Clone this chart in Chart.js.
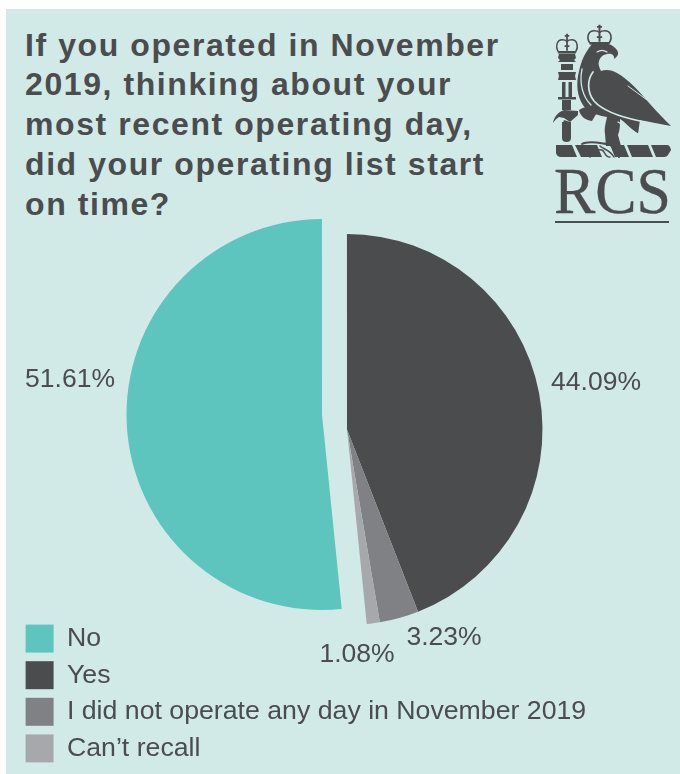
<!DOCTYPE html>
<html>
<head>
<meta charset="utf-8">
<title>Operating list start times</title>
<script src="https://cdn.jsdelivr.net/npm/chart.js@4"></script>
<style>
  html, body { margin: 0; padding: 0; background: #fff; }
  #page { position: relative; width: 680px; height: 774px; overflow: hidden; }
  #panel { position: absolute; left: 6px; top: 9px; right: 0; bottom: 0; background: #d1eae8; }
  #question {
    position: absolute; left: 25px; top: 25.5px; margin: 0;
    font: bold 32px/39.8px "Liberation Sans", Arial, sans-serif;
    letter-spacing: 1.58px; color: #4b4c4e; white-space: nowrap;
  }
  #crest { position: absolute; left: 0; top: 0; }
  #chart { position: absolute; left: 0; top: 0; }
</style>
</head>
<body>
<div id="page">
  <div id="panel"></div>
  <h1 id="question"></h1>

  <!-- College crest: falcon, mace and crowns -->
  <svg id="crest" width="680" height="774" viewBox="0 0 680 774">
    <defs>
      <g id="crown">
        <path d="M-11,9 C-15,2 -12,-5 -6,-5 C-3,-5 -1,-4 0,-3 C1,-4 3,-5 6,-5 C12,-5 15,2 11,9 Z" fill="none" stroke="#4b4c4e" stroke-width="1.8"/>
        <path d="M-11,10 H11" stroke="#4b4c4e" stroke-width="2.6"/>
        <path d="M0,-12 V8 M-2.8,-9.5 H2.8 M-3,2.5 H3" stroke="#4b4c4e" stroke-width="2.2"/>
      </g>
    </defs>
    <g fill="#4b4c4e">
      <use href="#crown" transform="translate(599.5 35) scale(0.9 0.85)"/>
      <use href="#crown" transform="translate(567 44) scale(0.8 0.85)"/>

      <!-- mace -->
      <path d="M559,54 H575 L576,58 L574,60 L576,62 H558 L560,60 L558,58 Z"/>
      <path d="M561,64 H573 V70 H561 Z"/>
      <path d="M558,72 H576 L575,76 L576,80 H558 L559,76 Z"/>
      <path d="M562,82 H565.5 V97 H562 Z M568.5,82 H572 V97 H568.5 Z"/>
      <path d="M558,97 H576 V99.5 H558 Z"/>
      <path d="M562,100 H571 V110 H562 Z"/>
      <path d="M562,122 H571 V138 Q571,142 566.5,142 Q562,142 562,138 Z"/>
      <path d="M553,123 C554,117 558,112 564,110 L578,111 L578,115 L570,122 L564,118 L559,117 C557,118 555,120 553,123 Z"/>
      <path d="M564,120 L570,122 L567,130 L562,126 Z"/>

      <!-- falcon body -->
      <path d="M592,44 C600,42 610,43 614,47 C619,51 620,55 614,59 C615,55 611,53 607,54 C602,55 600,58 599,61 C598,64 599,67 601,71 C606,69 612,70 617,73 C628,79 640,92 650,104 C657,112 665,120 671,126 C660,124 650,122 640,120 L638,134 C630,128 625,122 620,119 C620,125 620,130 618,135 L621,146 L606,146 L605,134 C604,128 606,122 607,117 C600,116 593,114 586,109 C578,100 576,88 578,76 C580,66 582,56 592,44 Z"/>
      <path d="M579,110 C585,106 592,106 598,111 L592,121 C585,120 580,116 579,110 Z"/>

      <!-- perch with gaps -->
      <path d="M556,145 H572 L577,157 H561 Q557,157 556,153 Z"/>
      <path d="M575,145 H597 L602,157 H581 Z"/>
      <path d="M610,145 H624 L629,157 H615 Z"/>
      <path d="M627,145 H648 L653,157 H632 Z"/>
      <path d="M651,145 H667 Q670,145 671,150 L668,155 Q667,157 664,157 H656 Z"/>
    </g>

    <!-- feather and claw lines -->
    <g fill="none" stroke="#d1eae8" stroke-linecap="round">
      <path d="M593,72 C587,80 587,92 594,101 C602,110 616,116 640,121" stroke-width="1.7"/>
      <path d="M582,69 C579,84 583,97 591,105" stroke-width="1.3"/>
      <path d="M628,86 L647,100" stroke-width="1"/>
      <path d="M618,122 L638,134" stroke-width="1.2"/>
      <path d="M597,52 C600,50 604,50 607,52" stroke-width="1.2"/>
    </g>
    <g fill="none" stroke="#4b4c4e" stroke-linecap="round">
      <path d="M582,144 C588,140 600,143 607,144 C612,145 618,150 619,157" stroke-width="2"/>
      <path d="M590,157 C592,151 598,149 602,150 C606,152 604,157 610,157 M600,146 C603,149 610,150 614,157" stroke-width="1.5"/>
    </g>

    <text x="554" y="212.5" font-family="Liberation Serif, serif" font-size="66" fill="#4b4c4e" stroke="#4b4c4e" stroke-width="0.4" textLength="117" lengthAdjust="spacingAndGlyphs">RCS</text>
    <rect x="555" y="221" width="114" height="2" fill="#4b4c4e"/>
  </svg>

  <canvas id="chart" width="680" height="774"></canvas>
</div>

<script>
const questionLines = [
  "If you operated in November",
  "2019, thinking about your",
  "most recent operating day,",
  "did your operating list start",
  "on time?",
];
const answers = ["No", "Yes", "I did not operate any day in November 2019", "Can\u2019t recall"];
const shares = [51.61, 44.09, 3.23, 1.08];
const sliceColors = ["#5ec5be", "#4b4c4e", "#808184", "#a7a8ab"];

// centre of each percentage label on the canvas
const labelSpots = [[70, 380], [596, 383], [444, 638], [357, 655]];

// the "No" slice is pulled away from the rest of the pie
const PULL_X = -25;
const PULL_Y = -15;

const TEXT_COLOR = "#4b4c4e";
const TEXT_FONT = '"Liberation Sans", Arial, sans-serif';

document.getElementById("question").innerHTML = questionLines.join("<br>");

const placeParts = {
  id: "placeParts",
  afterLayout(chart) {
    // legend sits under the pie, inside the chart area
    chart.legend.top = 616;
    chart.legend.bottom = 774;
  },
  afterDatasetsUpdate(chart) {
    const arc = chart.getDatasetMeta(0).data[0];
    arc.x += PULL_X;
    arc.y += PULL_Y;
  },
};

const shareLabels = {
  id: "shareLabels",
  afterDatasetsDraw(chart) {
    const ctx = chart.ctx;
    ctx.save();
    ctx.fillStyle = TEXT_COLOR;
    ctx.font = "26.5px " + TEXT_FONT;
    ctx.textAlign = "center";
    ctx.textBaseline = "middle";
    shares.forEach((share, i) => {
      ctx.fillText(share.toFixed(2) + "%", labelSpots[i][0], labelSpots[i][1]);
    });
    ctx.restore();
  },
};

new Chart(document.getElementById("chart"), {
  type: "pie",
  data: {
    labels: answers,
    datasets: [
      {
        data: shares,
        backgroundColor: sliceColors,
        borderWidth: 0,
      },
    ],
  },
  options: {
    responsive: false,
    animation: false,
    events: [],
    radius: 195.5,
    // start of the first slice, so "No" ends at twelve o'clock
    rotation: (1 - shares[0] / 100) * 360,
    layout: { padding: { left: 17, right: 3, top: 91, bottom: 6 } },
    plugins: {
      tooltip: { enabled: false },
      legend: {
        position: "chartArea",
        align: "start",
        labels: {
          boxWidth: 28,
          boxHeight: 28,
          padding: 8.6,
          color: TEXT_COLOR,
          font: { family: TEXT_FONT, size: 26.7 },
        },
      },
    },
  },
  plugins: [placeParts, shareLabels],
});
</script>
</body>
</html>
